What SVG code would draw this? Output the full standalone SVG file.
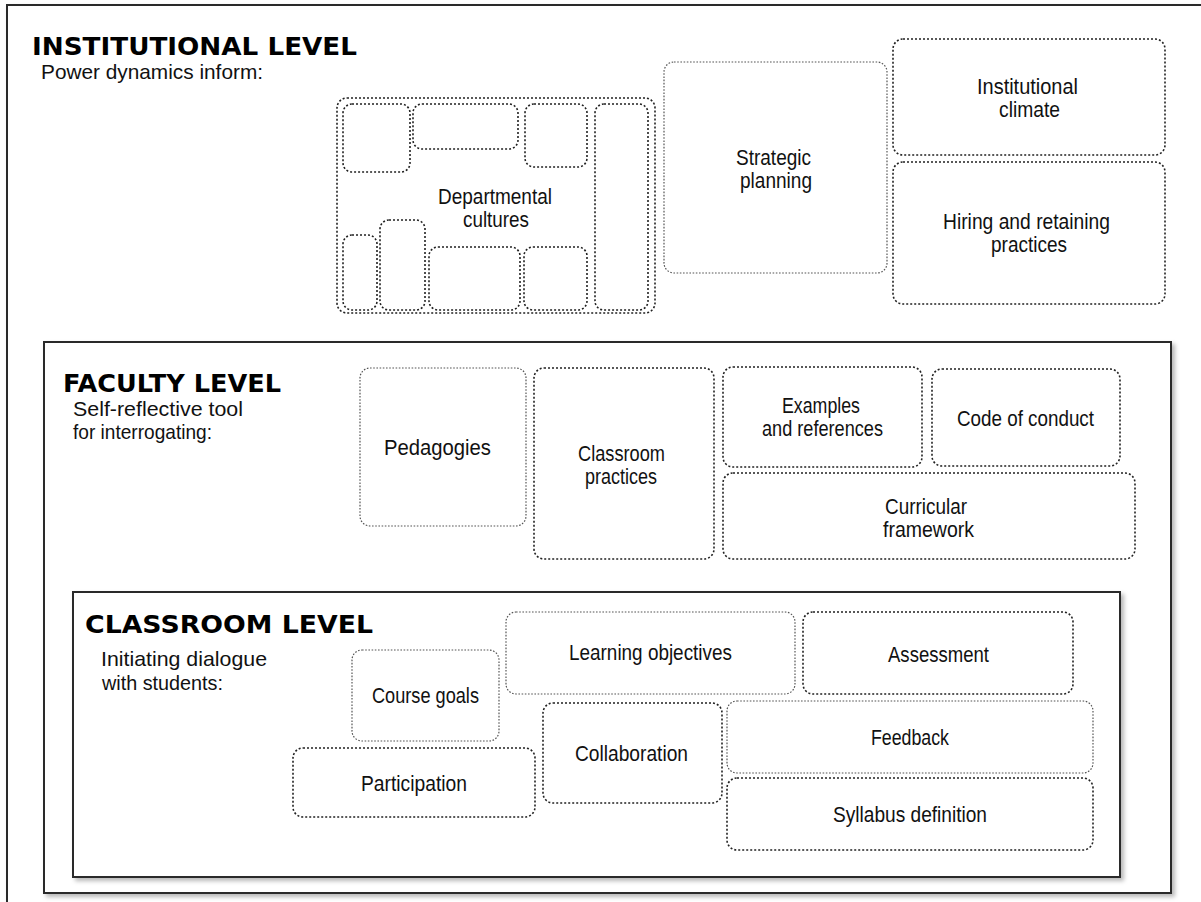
<svg xmlns="http://www.w3.org/2000/svg" width="1201" height="902" viewBox="0 0 1201 902">
<defs>
<filter id="sh" x="-5%" y="-5%" width="110%" height="110%">
<feDropShadow dx="3" dy="3" stdDeviation="2" flood-color="#000" flood-opacity="0.28"/>
</filter>
</defs>
<style>
.frame{fill:#fff;stroke:#2a2a2a;stroke-width:2;filter:url(#sh)}
.d{fill:none;stroke:#222;stroke-width:1.6;stroke-dasharray:2 2}
.l{fill:none;stroke:#555;stroke-width:1.2;stroke-dasharray:1.6 1.6}
.h{font-family:"DejaVu Sans","Liberation Sans",sans-serif;font-weight:bold;font-size:25px;fill:#000}
.s{font-family:"Liberation Sans","DejaVu Sans",sans-serif;font-size:21px;fill:#111}
.t{font-family:"Liberation Sans","DejaVu Sans",sans-serif;font-size:22px;fill:#111}
</style>
<rect width="1201" height="902" fill="#fff"/>
<g id="institutional-level">
<rect class="frame" x="7" y="5" width="1214" height="915"/>
<text class="h" x="32" y="55" textLength="325" lengthAdjust="spacingAndGlyphs">INSTITUTIONAL LEVEL</text>
<text class="s" x="41" y="79" textLength="222" lengthAdjust="spacingAndGlyphs">Power dynamics inform:</text>
</g>
<g id="departmental-cultures">
<rect class="d" x="337" y="98" width="318" height="215" rx="10"/>
<rect class="d" x="343" y="104" width="67" height="68" rx="9"/>
<rect class="d" x="413" y="104" width="105" height="45" rx="9"/>
<rect class="d" x="525" y="104" width="62" height="63" rx="9"/>
<rect class="d" x="595" y="104" width="53" height="206" rx="9"/>
<rect class="d" x="343" y="235" width="34" height="75" rx="9"/>
<rect class="d" x="380" y="220" width="45" height="90" rx="9"/>
<rect class="d" x="429" y="247" width="91" height="63" rx="9"/>
<rect class="d" x="524" y="247" width="63" height="63" rx="9"/>
<text class="t" x="438" y="204" textLength="114" lengthAdjust="spacingAndGlyphs">Departmental</text>
<text class="t" x="463" y="227" textLength="66" lengthAdjust="spacingAndGlyphs">cultures</text>
</g>
<g id="strategic-planning">
<rect class="l" x="664" y="62" width="223" height="211" rx="10"/>
<text class="t" x="736" y="165" textLength="75" lengthAdjust="spacingAndGlyphs">Strategic</text>
<text class="t" x="740" y="188" textLength="72" lengthAdjust="spacingAndGlyphs">planning</text>
</g>
<g id="institutional-climate">
<rect class="d" x="893" y="39" width="272" height="116" rx="10"/>
<text class="t" x="977" y="94" textLength="101" lengthAdjust="spacingAndGlyphs">Institutional</text>
<text class="t" x="999" y="117" textLength="61" lengthAdjust="spacingAndGlyphs">climate</text>
</g>
<g id="hiring-retaining">
<rect class="d" x="893" y="162" width="272" height="142" rx="10"/>
<text class="t" x="943" y="229" textLength="167" lengthAdjust="spacingAndGlyphs">Hiring and retaining</text>
<text class="t" x="991" y="252" textLength="76" lengthAdjust="spacingAndGlyphs">practices</text>
</g>
<g id="faculty-level">
<rect class="frame" x="44" y="342" width="1127" height="551"/>
<text class="h" x="63" y="392" textLength="218" lengthAdjust="spacingAndGlyphs">FACULTY LEVEL</text>
<text class="s" x="73" y="416" textLength="170" lengthAdjust="spacingAndGlyphs">Self-reflective tool</text>
<text class="s" x="73" y="439" textLength="139" lengthAdjust="spacingAndGlyphs">for interrogating:</text>
</g>
<g id="pedagogies">
<rect class="l" x="360" y="368" width="166" height="158" rx="10"/>
<text class="t" x="384" y="455" textLength="107" lengthAdjust="spacingAndGlyphs">Pedagogies</text>
</g>
<g id="classroom-practices">
<rect class="d" x="534" y="368" width="180" height="191" rx="10"/>
<text class="t" x="578" y="461" textLength="87" lengthAdjust="spacingAndGlyphs">Classroom</text>
<text class="t" x="585" y="484" textLength="72" lengthAdjust="spacingAndGlyphs">practices</text>
</g>
<g id="examples-references">
<rect class="d" x="723" y="367" width="199" height="100" rx="10"/>
<text class="t" x="782" y="413" textLength="78" lengthAdjust="spacingAndGlyphs">Examples</text>
<text class="t" x="762" y="436" textLength="121" lengthAdjust="spacingAndGlyphs">and references</text>
</g>
<g id="code-of-conduct">
<rect class="d" x="932" y="369" width="188" height="97" rx="10"/>
<text class="t" x="957" y="426" textLength="137" lengthAdjust="spacingAndGlyphs">Code of conduct</text>
</g>
<g id="curricular-framework">
<rect class="d" x="723" y="473" width="412" height="86" rx="10"/>
<text class="t" x="885" y="514" textLength="82" lengthAdjust="spacingAndGlyphs">Curricular</text>
<text class="t" x="883" y="537" textLength="91" lengthAdjust="spacingAndGlyphs">framework</text>
</g>
<g id="classroom-level">
<rect class="frame" x="73" y="592" width="1047" height="285"/>
<text class="h" x="85" y="633" textLength="288" lengthAdjust="spacingAndGlyphs">CLASSROOM LEVEL</text>
<text class="s" x="101" y="666" textLength="166" lengthAdjust="spacingAndGlyphs">Initiating dialogue</text>
<text class="s" x="102" y="690" textLength="121" lengthAdjust="spacingAndGlyphs">with students:</text>
</g>
<g id="course-goals">
<rect class="l" x="352" y="650" width="147" height="91" rx="10"/>
<text class="t" x="372" y="703" textLength="107" lengthAdjust="spacingAndGlyphs">Course goals</text>
</g>
<g id="learning-objectives">
<rect class="l" x="506" y="612" width="289" height="82" rx="10"/>
<text class="t" x="569" y="660" textLength="163" lengthAdjust="spacingAndGlyphs">Learning objectives</text>
</g>
<g id="assessment">
<rect class="d" x="803" y="612" width="270" height="82" rx="10"/>
<text class="t" x="888" y="662" textLength="101" lengthAdjust="spacingAndGlyphs">Assessment</text>
</g>
<g id="participation">
<rect class="d" x="293" y="748" width="242" height="69" rx="10"/>
<text class="t" x="361" y="791" textLength="106" lengthAdjust="spacingAndGlyphs">Participation</text>
</g>
<g id="collaboration">
<rect class="d" x="543" y="703" width="179" height="100" rx="10"/>
<text class="t" x="575" y="761" textLength="113" lengthAdjust="spacingAndGlyphs">Collaboration</text>
</g>
<g id="feedback">
<rect class="l" x="727" y="701" width="366" height="72" rx="10"/>
<text class="t" x="871" y="745" textLength="78" lengthAdjust="spacingAndGlyphs">Feedback</text>
</g>
<g id="syllabus-definition">
<rect class="d" x="727" y="778" width="366" height="72" rx="10"/>
<text class="t" x="833" y="822" textLength="154" lengthAdjust="spacingAndGlyphs">Syllabus definition</text>
</g>
<g id="connectors"/>
</svg>
